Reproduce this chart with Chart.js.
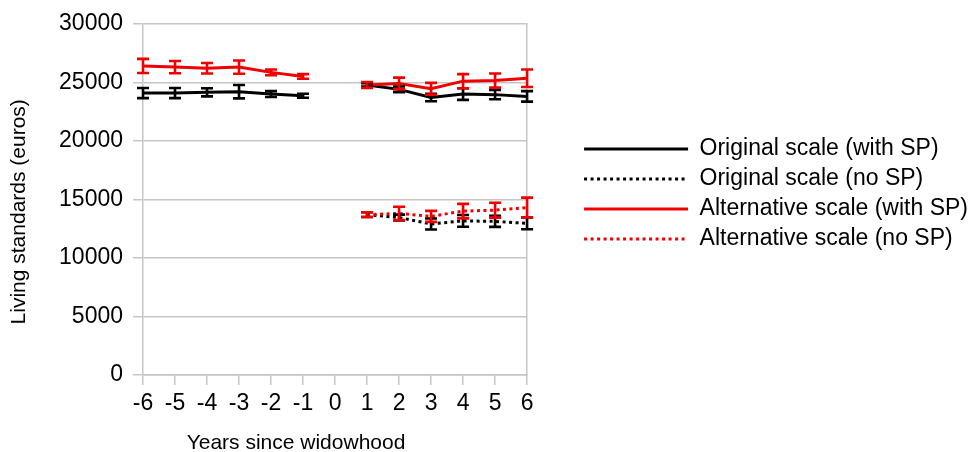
<!DOCTYPE html>
<html>
<head>
<meta charset="utf-8">
<script src="https://cdn.jsdelivr.net/npm/chart.js@4/dist/chart.umd.min.js"></script>
<style>
html,body{margin:0;padding:0;background:#fff;}
#wrap{width:974px;height:452px;position:relative;}
</style>
</head>
<body>
<div id="wrap"><canvas id="c" width="974" height="452"></canvas></div>
<script>
const years = ['-6','-5','-4','-3','-2','-1','0','1','2','3','4','5','6'];
const origWithSP    = [24080, 24080, 24150, 24200, 24000, 23850, null, 24780, 24400, 23700, 24000, 23950, 23800];
const origWithSPErr = [430, 430, 350, 570, 250, 170, null, 150, 250, 320, 500, 400, 450];
const origNoSP      = [null, null, null, null, null, null, null, 13700, 13450, 12900, 13170, 13120, 12950];
const origNoSPErr   = [null, null, null, null, null, null, null, 200, 250, 470, 500, 470, 500];
const altWithSP     = [26400, 26300, 26200, 26300, 25850, 25500, null, 24780, 24900, 24450, 25100, 25150, 25350];
const altWithSPErr  = [600, 520, 450, 570, 250, 200, null, 250, 500, 500, 600, 600, 750];
const altNoSP       = [null, null, null, null, null, null, null, 13700, 13800, 13550, 14000, 14080, 14300];
const altNoSPErr    = [null, null, null, null, null, null, null, 200, 570, 470, 620, 640, 850];
const seriesNames = ['Original scale (with SP)', 'Original scale (no SP)', 'Alternative scale (with SP)', 'Alternative scale (no SP)'];
const xTitle = 'Years since widowhood';
const yTitle = 'Living standards (euros)';

const RED = '#f00000';
const BLACK = '#000000';
const GRID = '#c6c6c6';
const FONT = "'Liberation Sans', Arial, Helvetica, sans-serif";

const errorBars = {
  id: 'errorBars',
  afterDatasetsDraw(chart) {
    const ctx = chart.ctx;
    const yS = chart.scales.y;
    ctx.save();
    [0, 1, 2, 3].forEach(d => {
      const ds = chart.data.datasets[d];
      const meta = chart.getDatasetMeta(d);
      ctx.strokeStyle = ds.borderColor;
      ctx.lineWidth = 2.6;
      ctx.setLineDash([]);
      ds.data.forEach((v, i) => {
        const e = ds.errors[i];
        if (v == null || e == null) return;
        const px = meta.data[i].x;
        const top = yS.getPixelForValue(v + e);
        const bot = yS.getPixelForValue(v - e);
        ctx.beginPath();
        ctx.moveTo(px, top); ctx.lineTo(px, bot);
        ctx.moveTo(px - 6, top); ctx.lineTo(px + 6, top);
        ctx.moveTo(px - 6, bot); ctx.lineTo(px + 6, bot);
        ctx.stroke();
      });
    });
    ctx.restore();
  }
};

const axisTitles = {
  id: 'axisTitles',
  afterDraw(chart) {
    const ctx = chart.ctx;
    const a = chart.chartArea;
    ctx.save();
    ctx.fillStyle = '#000';
    ctx.font = "21px " + FONT;
    ctx.textAlign = 'center';
    ctx.textBaseline = 'middle';
    ctx.fillText(xTitle, a.left + 153, 443);
    ctx.translate(19, a.top + 188);
    ctx.rotate(-Math.PI / 2);
    ctx.fillText(yTitle, 0, 0);
    ctx.restore();
  }
};

const mk = (label, data, errors, color, dotted, order) => ({
  label, data, errors,
  borderColor: color,
  backgroundColor: color,
  borderWidth: 3,
  borderDash: dotted ? [3, 3.5] : [],
  pointRadius: 0,
  pointHoverRadius: 0,
  spanGaps: false,
  tension: 0,
  order
});

new Chart(document.getElementById('c'), {
  type: 'line',
  data: {
    labels: years,
    datasets: [
      mk(seriesNames[0], origWithSP, origWithSPErr, BLACK, false, 3),
      mk(seriesNames[1], origNoSP, origNoSPErr, BLACK, true, 2),
      mk(seriesNames[2], altWithSP, altWithSPErr, RED, false, 1),
      mk(seriesNames[3], altNoSP, altNoSPErr, RED, true, 0)
    ]
  },
  options: {
    responsive: false,
    animation: false,
    events: [],
    layout: { padding: { top: 23, left: 0, right: -4, bottom: 0 } },
    plugins: {
      tooltip: { enabled: false },
      legend: {
        position: 'right',
        align: 'start',
        maxWidth: 460,
        title: { display: true, text: ' ', font: { size: 10 }, padding: { top: 95.5, bottom: 0 } },
        labels: {
          usePointStyle: true,
          pointStyle: 'line',
          pointStyleWidth: 104,
          boxHeight: 23,
          padding: 7,
          color: '#000',
          font: { family: FONT, size: 23 },
          sort: (a, b) => a.datasetIndex - b.datasetIndex,
          generateLabels: (chart) => {
            const items = Chart.defaults.plugins.legend.labels.generateLabels(chart);
            items.forEach(it => {
              const ds = chart.data.datasets[it.datasetIndex];
              it.lineDash = ds.borderDash;
              it.lineWidth = 3;
              it.strokeStyle = ds.borderColor;
            });
            return items;
          }
        }
      }
    },
    scales: {
      x: {
        type: 'category',
        offset: false,
        afterFit: s => { s.height = 77; },
        grid: { color: 'rgba(0,0,0,0)', tickColor: GRID, tickLength: 10, lineWidth: 1.5 },
        border: { display: true, color: GRID, width: 1.5 },
        ticks: { color: '#000', font: { family: FONT, size: 23 }, padding: 5, maxRotation: 0, autoSkip: false }
      },
      y: {
        min: 0, max: 30000,
        afterFit: s => { s.width = 143; },
        grid: { color: GRID, tickColor: GRID, tickLength: 10, lineWidth: 1.5 },
        border: { display: true, color: GRID, width: 1.5 },
        ticks: { stepSize: 5000, color: '#000', font: { family: FONT, size: 23 }, padding: 10, callback: v => String(v) }
      },
      y2: {
        position: 'right',
        min: 0, max: 30000,
        afterFit: s => { s.width = 50; },
        grid: { display: false },
        border: { display: true, color: GRID, width: 1.5 },
        ticks: { display: false }
      }
    }
  },
  plugins: [errorBars, axisTitles]
});
</script>
</body>
</html>
